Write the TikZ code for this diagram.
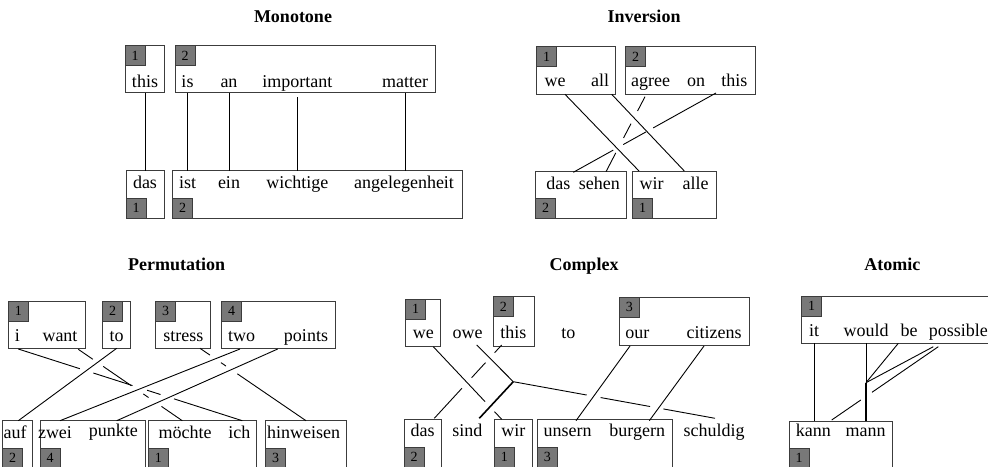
\documentclass[tikz,border=0pt]{standalone}
\usepackage{fontspec}
\setmainfont{Liberation Serif}
\usetikzlibrary{calc,fit}
\definecolor{labgray}{RGB}{120,120,120}
\definecolor{boxc}{RGB}{60,60,60}
\tikzset{
 pbox/.style={draw=boxc, line width=0.9pt, inner sep=0pt, outer sep=0pt},
 lab/.style={draw=boxc, fill=labgray, line width=0.8pt, minimum width=20pt, minimum height=20pt, inner sep=0pt, outer sep=0pt, font=\fontsize{14}{14}\selectfont},
 wd/.style={anchor=base, inner sep=0pt, font=\fontsize{18}{20}\selectfont},
 ttl/.style={anchor=base, inner sep=0pt, font=\fontsize{18}{20}\selectfont\bfseries},
 ln/.style={line width=0.9pt, black},
 hvy/.style={line width=1.6pt, black},
}
\newcommand\mkbox[5]{\path (#2,#3) coordinate (#1-nw) (#4,#5) coordinate (#1-se);\node[pbox, fit=(#1-nw)(#1-se)] (#1) {};}
\newcommand\toplab[2]{\node[lab, anchor=north west] (#1-lab) at (#1.north west) {#2};}
\newcommand\botlab[2]{\node[lab, anchor=south west] (#1-lab) at (#1.south west) {#2};}
\newcommand\gapln[3]{\foreach \pa/\pb in {#3}{\draw[ln] ($(#1)!\pa!(#2)$) -- ($(#1)!\pb!(#2)$);}}
\begin{document}
\begin{tikzpicture}[x=1pt,y=-1pt]
\useasboundingbox (0,0) rectangle (988,466);
\clip (0,0) rectangle (988,466);
% ================= Monotone =================
\node[ttl] (t-mono) at (293,22.5) {Monotone};
\mkbox{m1}{125}{45.7}{164.3}{92.7}\toplab{m1}{1}
\mkbox{m2}{175}{45.7}{435}{92.7}\toplab{m2}{2}
\mkbox{m3}{126}{170.7}{164.3}{218.3}\botlab{m3}{1}
\mkbox{m4}{172.7}{170.7}{462.7}{218.3}\botlab{m4}{2}
\node[wd] (m-this) at (145,87) {this};
\node[wd] (m-is) at (187.5,87) {is};
\node[wd] (m-an) at (229,87) {an};
\node[wd] (m-important) at (297.3,87) {important};
\node[wd] (m-matter) at (405,87) {matter};
\node[wd] (m-das) at (145,188.3) {das};
\node[wd] (m-ist) at (187.7,188.3) {ist};
\node[wd] (m-ein) at (229,188.3) {ein};
\node[wd] (m-wichtige) at (297.3,188.3) {wichtige};
\node[wd] (m-angelegenheit) at (404,188.3) {angelegenheit};
\coordinate (m-a1) at (145,92.7);   \coordinate (m-b1) at (145,170.7);
\coordinate (m-a2) at (187.7,92.7); \coordinate (m-b2) at (187.7,170.7);
\coordinate (m-a3) at (229,92.7);   \coordinate (m-b3) at (229,170.7);
\coordinate (m-a4) at (297.3,97);   \coordinate (m-b4) at (297.3,170.7);
\coordinate (m-a5) at (405,92.7);   \coordinate (m-b5) at (405,170.7);
\foreach \k in {1,...,5}{\draw[ln] (m-a\k) -- (m-b\k);}
% ================= Inversion =================
\node[ttl] (t-inv) at (644,22) {Inversion};
\mkbox{i1}{536.7}{46.7}{615.7}{94.3}\toplab{i1}{1}
\mkbox{i2}{625.7}{46.7}{755}{94.3}\toplab{i2}{2}
\mkbox{i3}{535.7}{171}{626.7}{218.3}\botlab{i3}{2}
\mkbox{i4}{632.7}{171}{716}{218.3}\botlab{i4}{1}
\node[wd] (i-we) at (555,86.7) {we};
\node[wd] (i-all) at (600,86.7) {all};
\node[wd] (i-agree) at (650.7,86.7) {agree};
\node[wd] (i-on) at (696,86.7) {on};
\node[wd] (i-this) at (734.3,86.7) {this};
\node[wd] (i-das) at (558.3,189) {das};
\node[wd] (i-sehen) at (599.3,189) {sehen};
\node[wd] (i-wir) at (651.7,189) {wir};
\node[wd] (i-alle) at (695.7,189) {alle};
\coordinate (i-we-s) at (565,94.3);    \coordinate (i-wir-n) at (639,171);
\coordinate (i-all-s) at (611.7,94.3); \coordinate (i-alle-n) at (684.3,171);
\coordinate (i-this-s) at (716,93);    \coordinate (i-das-n) at (573.3,172.3);
\coordinate (i-agree-s) at (645,96.7); \coordinate (i-sehen-n) at (606,171.7);
\gapln{i-this-s}{i-das-n}{0/0.44, 0.49/0.65, 0.72/1}
\gapln{i-agree-s}{i-sehen-n}{0/0.19, 0.36/0.55, 0.75/1}
\draw[ln] (i-we-s) -- (i-wir-n);
\draw[ln] (i-all-s) -- (i-alle-n);
% ================= Permutation =================
\node[ttl] (t-perm) at (176.7,270.7) {Permutation};
\mkbox{p1}{8.3}{301}{85.7}{348.3}\toplab{p1}{1}
\mkbox{p2}{102.7}{301}{130.7}{348.3}\toplab{p2}{2}
\mkbox{p3}{155.7}{301}{210.7}{348.3}\toplab{p3}{3}
\mkbox{p4}{221.7}{301}{335}{348.3}\toplab{p4}{4}
\mkbox{p5}{2.7}{420.7}{32.7}{468}\botlab{p5}{2}
\mkbox{p6}{40}{420.7}{145.7}{468}\botlab{p6}{4}
\mkbox{p7}{148.3}{420.7}{256.7}{468}\botlab{p7}{1}
\mkbox{p8}{265.7}{420.7}{346.7}{468}\botlab{p8}{3}
\node[wd] (p-i) at (17.3,341.7) {i};
\node[wd] (p-want) at (60,341.7) {want};
\node[wd] (p-to) at (116.7,341.7) {to};
\node[wd] (p-stress) at (183.3,341.7) {stress};
\node[wd] (p-two) at (241.7,341.7) {two};
\node[wd] (p-points) at (306,341.7) {points};
\node[wd] (p-auf) at (15,438.3) {auf};
\node[wd] (p-zwei) at (55,438.3) {zwei};
\node[wd] (p-punkte) at (113.3,436.3) {punkte};
\node[wd] (p-moechte) at (185,438.3) {möchte};
\node[wd] (p-ich) at (239.3,438.3) {ich};
\node[wd] (p-hinweisen) at (303.7,438.3) {hinweisen};
\coordinate (p-i-s) at (18.3,349);        \coordinate (p-ich-n) at (242.3,420.7);
\coordinate (p-want-s) at (78.3,349.3);   \coordinate (p-moechte-n) at (182.3,420.7);
\coordinate (p-to-s) at (116.7,348.3);    \coordinate (p-auf-n) at (18.3,420.7);
\coordinate (p-stress-s) at (200,348.3);  \coordinate (p-hinweisen-n) at (306,420.7);
\coordinate (p-two-s) at (240,349);       \coordinate (p-zwei-n) at (60,420.7);
\coordinate (p-points-s) at (277.7,349);  \coordinate (p-punkte-n) at (116.7,420.7);
\gapln{p-i-s}{p-ich-n}{0/0.275, 0.335/0.51, 0.575/0.635, 0.695/1}
\gapln{p-want-s}{p-moechte-n}{0/0.14, 0.24/0.51, 0.625/0.675, 0.80/1}
\gapln{p-stress-s}{p-hinweisen-n}{0/0.094, 0.198/0.245, 0.352/1}
\draw[ln] (p-to-s) -- (p-auf-n);
\draw[ln] (p-two-s) -- (p-zwei-n);
\draw[ln] (p-points-s) -- (p-punkte-n);
% ================= Complex =================
\node[ttl] (t-cplx) at (584,270.7) {Complex};
\mkbox{c1}{405.7}{299}{440.7}{346}\toplab{c1}{1}
\mkbox{c2}{493.3}{296.7}{534}{346}\toplab{c2}{2}
\mkbox{c3}{619.3}{297.3}{749}{345}\toplab{c3}{3}
\mkbox{c4}{404}{419}{441.7}{467}\botlab{c4}{2}
\mkbox{c5}{494.3}{419}{532.7}{467}\botlab{c5}{1}
\mkbox{c6}{537.3}{419}{672.7}{467}\botlab{c6}{3}
\node[wd] (c-we) at (423.3,338.3) {we};
\node[wd] (c-owe) at (467.7,338.3) {owe};
\node[wd] (c-this) at (513.3,338.3) {this};
\node[wd] (c-to) at (568.3,338.3) {to};
\node[wd] (c-our) at (637.3,338.3) {our};
\node[wd] (c-citizens) at (714,338.3) {citizens};
\node[wd] (c-das) at (422.7,436.7) {das};
\node[wd] (c-sind) at (467.3,436.7) {sind};
\node[wd] (c-wir) at (513.3,436.7) {wir};
\node[wd] (c-unsern) at (567.7,436.7) {unsern};
\node[wd] (c-burgern) at (637.3,436.7) {burgern};
\node[wd] (c-schuldig) at (714,436.7) {schuldig};
\coordinate (c-we-s) at (433.3,346.7);     \coordinate (c-wir-n) at (501.7,419.3);
\coordinate (c-this-s) at (501.7,345);     \coordinate (c-das-n) at (434.3,418.3);
\coordinate (c-owe-s) at (476.7,345);      \coordinate (c-j) at (513.3,381.7);
\coordinate (c-sind-n) at (479.3,418.3);   \coordinate (c-schuldig-n) at (715,418.3);
\coordinate (c-our-s) at (630,346);        \coordinate (c-unsern-n) at (576,420.7);
\coordinate (c-citizens-s) at (704,346);   \coordinate (c-burgern-n) at (649.3,420.7);
\gapln{c-this-s}{c-das-n}{0/0.105, 0.241/0.446, 0.59/1}
\gapln{c-we-s}{c-wir-n}{0/0.757, 0.895/1}
\gapln{c-j}{c-schuldig-n}{0/0.364, 0.433/0.678, 0.744/1}
\draw[ln] (c-owe-s) -- (c-j);
\draw[hvy] (c-j) -- (c-sind-n);
\draw[ln] (c-our-s) -- (c-unsern-n);
\draw[ln] (c-citizens-s) -- (c-burgern-n);
% ================= Atomic =================
\node[ttl] (t-atom) at (892.3,270.7) {Atomic};
\mkbox{a1}{801.7}{296}{1000}{343.3}\toplab{a1}{1}
\mkbox{a2}{789}{421}{892.7}{468}\botlab{a2}{1}
\node[wd] (a-it) at (814,336.7) {it};
\node[wd] (a-would) at (866,336.7) {would};
\node[wd] (a-be) at (909,336.7) {be};
\node[wd] (a-possible) at (958.3,336.7) {possible};
\node[wd] (a-kann) at (813.3,436.7) {kann};
\node[wd] (a-mann) at (865.7,436.7) {mann};
\coordinate (a-it-s) at (814,343.3);       \coordinate (a-kann-n) at (814,421);
\coordinate (a-would-s) at (866,343.3);    \coordinate (a-j) at (866,382.7);
\coordinate (a-mann-n) at (866,421);
\coordinate (a-be-s) at (898.3,343.3);
\coordinate (a-poss-s1) at (933.3,346.7);
\coordinate (a-poss-s2) at (938.3,346.7);  \coordinate (a-kann-n2) at (831.7,420);
\draw[ln] (a-it-s) -- (a-kann-n);
\draw[ln] (a-would-s) -- (a-j);
\draw[ln] (a-be-s) -- (a-j);
\draw[ln] (a-poss-s1) -- (a-j);
\gapln{a-poss-s2}{a-kann-n2}{0/0.622, 0.727/1}
\draw[hvy] (a-j) -- (a-mann-n);
\end{tikzpicture}
\end{document}
